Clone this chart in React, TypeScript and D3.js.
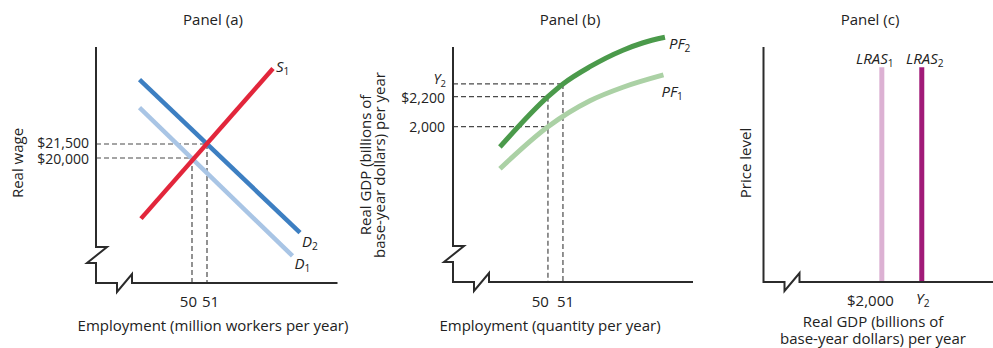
import React from 'react';
import * as d3 from 'd3';

// ---------- data ----------
const panelTitles = ['Panel (a)', 'Panel (b)', 'Panel (c)'];

// Panel (a): labour market (employment in millions, real wage in $)
const employmentTicks = [50, 51];
const wageTicks = [21500, 20000];
const wageTickLabels = ['$21,500', '$20,000'];
const supplyS1: [number, number][] = [[46.6, 13500], [55.4, 29600]];
const demandD2: [number, number][] = [[46.5, 28400], [57.2, 12000]];
const demandD1: [number, number][] = [[46.5, 25400], [56.7, 9500]];
const equilibria: [number, number][] = [[51, 21500], [50, 20000]];

// Panel (b): production function (employment, real GDP billions)
const gdpTicks = [2285, 2200, 2000];
const gdpTickLabels = ['Y', '$2,200', '2,000'];
const pf2: [number, number][] = [[46.8, 1865], [50, 2200], [51, 2285], [52.8, 2400], [55, 2510], [56.3, 2558], [57.8, 2596]];
const pf1: [number, number][] = [[46.8, 1720], [50, 2000], [52.8, 2173], [55, 2263], [57.7, 2345]];
const pfPoints: [number, number][] = [[51, 2285], [50, 2200], [50, 2000]];

// Panel (c): long-run aggregate supply
const lrasGdp = [2000, 2285];
const lrasNames = ['LRAS', 'LRAS'];
const lrasSubs = ['1', '2'];
const lrasTickLabels = ['$2,000', 'Y'];
const lrasTop = 91;

// ---------- styles ----------
const FONT = "'Open Sans', 'Noto Sans', sans-serif";
const FS = 15;
const AXIS = '#2b2b2b';
const DASH = '#4a4a4a';
const C_S1 = '#e2263b';
const C_D2 = '#3d7fc2';
const C_D1 = '#a9c5e5';
const C_PF2 = '#4b9a4b';
const C_PF1 = '#abd1a5';
const C_L1 = '#dcb1d3';
const C_L2 = '#a11a78';

function brokenAxes(ox: number, oy: number, top: number, right: number, yBreak: boolean) {
  const p = d3.path();
  p.moveTo(ox, top);
  if (yBreak) {
    p.lineTo(ox, oy - 36);
    p.lineTo(ox + 11, oy - 36);
    p.lineTo(ox - 9, oy - 20);
    p.lineTo(ox, oy - 20);
  }
  p.lineTo(ox, oy);
  p.lineTo(ox + 21, oy);
  p.lineTo(ox + 21, oy + 9);
  p.lineTo(ox + 36, oy - 9);
  p.lineTo(ox + 36, oy);
  p.lineTo(right, oy);
  return p.toString();
}

function Sub({ x, y, main, sub, anchor = 'start', size = FS }: any) {
  return (
    <text x={x} y={y} textAnchor={anchor} fontFamily={FONT} fontSize={size} fontStyle="italic" fill="#222">
      {main}
      <tspan fontSize={size * 0.68} dy={3} fontStyle="normal">{sub}</tspan>
    </text>
  );
}

export default function App() {
  // Panel (a) scales
  const xa = d3.scaleLinear().domain([43.6, 59.7]).range([96, 337.5]);
  const ya = d3.scaleLinear().domain([6600, 31900]).range([283, 47]);
  // Panel (b) scales
  const xb = d3.scaleLinear().domain([43.67, 59.67]).range([453, 693]);
  const yb = d3.scaleLinear().domain([965, 2538]).range([282, 46]);
  // Panel (c) scales
  const xc = d3.scaleLinear().domain([1156, 2793]).range([763.5, 993]);
  const yc = d3.scaleLinear().domain([0, 100]).range([282, 46]);

  const lineA = d3.line<[number, number]>().x(d => xa(d[0])).y(d => ya(d[1]));
  const lineB = d3.line<[number, number]>().x(d => xb(d[0])).y(d => yb(d[1])).curve(d3.curveMonotoneX);

  const textProps = { fontFamily: FONT, fontSize: FS, fill: '#222' };
  const tickProps = { fontFamily: FONT, fontSize: 14, fill: '#222' };

  return (
    <svg width={993} height={348} style={{ position: 'absolute', left: 0, top: 0, background: '#fff' }}>
      <rect width={993} height={348} fill="#fff" />
      {/* titles */}
      <text x={213} y={25} textAnchor="middle" {...textProps}>{panelTitles[0]}</text>
      <text x={570} y={25} textAnchor="middle" {...textProps}>{panelTitles[1]}</text>
      <text x={870} y={25} textAnchor="middle" {...textProps}>{panelTitles[2]}</text>

      {/* ---------- Panel (a) ---------- */}
      {equilibria.map(([e, w], i) => (
        <g key={i} stroke={DASH} strokeWidth={1.2} strokeDasharray="5,3" fill="none">
          <line x1={xa.range()[0]} x2={xa(e)} y1={ya(w)} y2={ya(w)} />
          <line x1={xa(e)} x2={xa(e)} y1={ya(w)} y2={ya.range()[0]} />
        </g>
      ))}
      <path d={lineA(demandD1)!} stroke={C_D1} strokeWidth={4.5} fill="none" />
      <path d={lineA(demandD2)!} stroke={C_D2} strokeWidth={4.5} fill="none" />
      <path d={lineA(supplyS1)!} stroke={C_S1} strokeWidth={4.5} fill="none" />
      <path d={brokenAxes(96, 283, 47, 337.5, true)} stroke={AXIS} strokeWidth={2} fill="none" />
      {wageTicks.map((w, i) => (
        <text key={i} x={89} y={ya(w) + (i === 0 ? 4 : 6)} textAnchor="end" {...tickProps}>{wageTickLabels[i]}</text>
      ))}
      <text x={xa(employmentTicks[0]) + 5} y={307} textAnchor="end" {...textProps}>{employmentTicks[0]}</text>
      <text x={xa(employmentTicks[1]) - 5} y={307} textAnchor="start" {...textProps}>{employmentTicks[1]}</text>
      <Sub x={xa(supplyS1[1][0]) + 3} y={ya(supplyS1[1][1]) + 4} main="S" sub="1" />
      <Sub x={xa(demandD2[1][0]) + 2} y={ya(demandD2[1][1]) + 14} main="D" sub="2" />
      <Sub x={xa(demandD1[1][0]) + 2} y={ya(demandD1[1][1]) + 13} main="D" sub="1" />
      <text x={213} y={331} textAnchor="middle" {...textProps}>Employment (million workers per year)</text>
      <text transform="translate(23,163) rotate(-90)" textAnchor="middle" {...textProps}>Real wage</text>

      {/* ---------- Panel (b) ---------- */}
      {pfPoints.map(([e, g], i) => (
        <g key={i} stroke={DASH} strokeWidth={1.2} strokeDasharray="5,3" fill="none">
          <line x1={xb.range()[0]} x2={xb(e)} y1={yb(g)} y2={yb(g)} />
          {i < 2 && <line x1={xb(e)} x2={xb(e)} y1={yb(g)} y2={yb.range()[0]} />}
        </g>
      ))}
      <path d={lineB(pf1)!} stroke={C_PF1} strokeWidth={5} fill="none" />
      <path d={lineB(pf2)!} stroke={C_PF2} strokeWidth={5} fill="none" />
      <path d={brokenAxes(453, 282, 47, 693, true)} stroke={AXIS} strokeWidth={2} fill="none" />
      {gdpTicks.map((g, i) =>
        i === 0 ? (
          <Sub key={i} x={446} y={yb(g)} main={gdpTickLabels[i]} sub="2" anchor="end" size={14} />
        ) : (
          <text key={i} x={445} y={yb(g) + (i === 1 ? 6 : 5)} textAnchor="end" {...tickProps}>{gdpTickLabels[i]}</text>
        )
      )}
      <text x={xb(employmentTicks[0]) + 1} y={307} textAnchor="end" {...textProps}>{employmentTicks[0]}</text>
      <text x={xb(employmentTicks[1]) - 6} y={307} textAnchor="start" {...textProps}>{employmentTicks[1]}</text>
      <Sub x={xb(pf2[pf2.length - 1][0]) + 4} y={yb(pf2[pf2.length - 1][1]) + 12} main="PF" sub="2" />
      <Sub x={xb(pf1[pf1.length - 1][0]) - 2} y={yb(pf1[pf1.length - 1][1]) + 22} main="PF" sub="1" />
      <text x={550} y={331} textAnchor="middle" {...textProps}>Employment (quantity per year)</text>
      <text transform="translate(371,165) rotate(-90)" textAnchor="middle" {...textProps}>Real GDP (billions of</text>
      <text transform="translate(385,165) rotate(-90)" textAnchor="middle" {...textProps}>base-year dollars) per year</text>

      {/* ---------- Panel (c) ---------- */}
      <path d={brokenAxes(763.5, 282, 47, 993, false)} stroke={AXIS} strokeWidth={2} fill="none" />
      {lrasGdp.map((g, i) => (
        <g key={i}>
          <line x1={xc(g)} x2={xc(g)} y1={yc(lrasTop)} y2={yc(0) - 1} stroke={i === 0 ? C_L1 : C_L2} strokeWidth={5} />
          <Sub x={xc(g) + (i === 0 ? -7 : 3)} y={64} main={lrasNames[i]} sub={lrasSubs[i]} anchor="middle" size={15} />
        </g>
      ))}
      <text x={xc(lrasGdp[0]) + 12} y={306} textAnchor="end" {...textProps}>{lrasTickLabels[0]}</text>
      <Sub x={xc(lrasGdp[1]) + 1} y={304} main={lrasTickLabels[1]} sub="2" anchor="middle" />
      <text transform="translate(751,163) rotate(-90)" textAnchor="middle" {...textProps}>Price level</text>
      <text x={873} y={327} textAnchor="middle" {...textProps}>Real GDP (billions of</text>
      <text x={873} y={344} textAnchor="middle" {...textProps}>base-year dollars) per year</text>
    </svg>
  );
}
